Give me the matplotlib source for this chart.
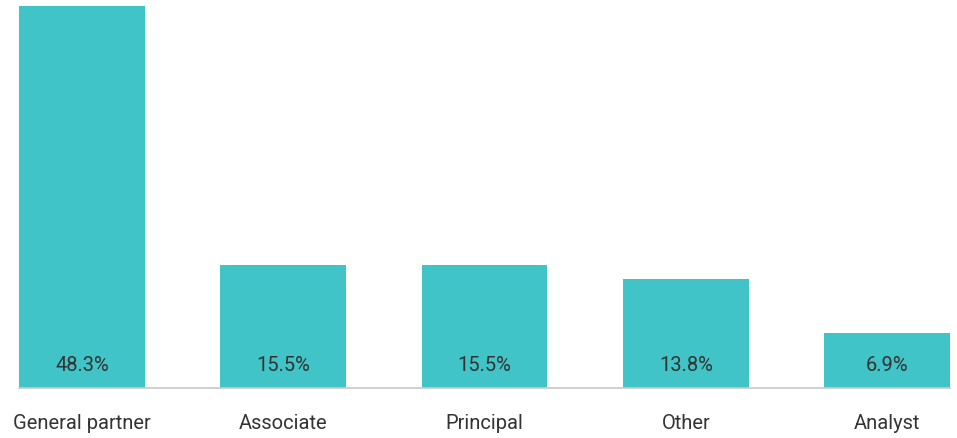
import matplotlib.pyplot as plt
import numpy as np
from matplotlib import font_manager

# roles and share of respondents (%)
roles = ["General partner", "Associate", "Principal", "Other", "Analyst"]
shares = [48.3, 15.5, 15.5, 13.8, 6.9]

names = {f.name for f in font_manager.fontManager.ttflist}
font = "Liberation Sans Narrow" if "Liberation Sans Narrow" in names else "Roboto"
plt.rcParams["font.family"] = [font, "DejaVu Sans"]

W, H = 957, 438
fig = plt.figure(figsize=(W / 100, H / 100), dpi=100)
ax = fig.add_axes([19 / W, (H - 388) / H, (950 - 19) / W, (388 - 6) / H])

x = np.arange(len(roles))
width = 0.625
ax.bar(x, shares, width=width, color="#40C4C8")
ax.set_xlim(-width / 2, len(roles) - 1 + width / 2)
ax.set_ylim(0, max(shares))

for xi, v in zip(x, shares):
    ax.text(xi, 2.8, f"{v}%", ha="center", va="center", fontsize=14.5,
            fontweight="normal", color="#333333")

ax.set_xticks(x)
ax.set_xticklabels(roles, fontsize=14.5, fontweight="normal", color="#333333")
ax.tick_params(axis="x", length=0, pad=19)
ax.set_yticks([])
for s in ["top", "left", "right"]:
    ax.spines[s].set_visible(False)
ax.spines["bottom"].set_color("#c8c8c8")
ax.spines["bottom"].set_linewidth(1.2)

fig.savefig("out.png", dpi=100)
